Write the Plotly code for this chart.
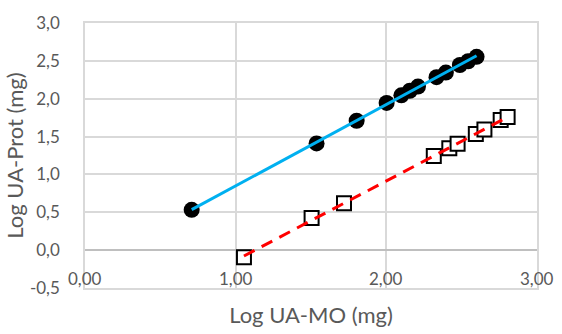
import numpy as np
import plotly.graph_objects as go

# Series 1: filled circles (Log UA-MO vs Log UA-Prot)
circ_x = [0.708, 1.537, 1.803, 2.002, 2.100, 2.156, 2.210, 2.333, 2.395, 2.488, 2.543, 2.599]
circ_y = [0.532, 1.410, 1.709, 1.945, 2.045, 2.105, 2.160, 2.285, 2.345, 2.445, 2.495, 2.553]

# Series 2: open squares
sq_x = [1.055, 1.504, 1.719, 2.315, 2.418, 2.473, 2.594, 2.651, 2.759, 2.805]
sq_y = [-0.095, 0.423, 0.618, 1.243, 1.345, 1.405, 1.533, 1.592, 1.720, 1.760]

x_ticks = [0, 1, 2, 3]
x_tick_text = ["0,00", "1,00", "2,00", "3,00"]
y_ticks = [-0.5, 0, 0.5, 1.0, 1.5, 2.0, 2.5, 3.0]
y_tick_text = ["-0,5", "0,0", "0,5", "1,0", "1,5", "2,0", "2,5", "3,0"]

def trend(xs, ys):
    a, b = np.polyfit(xs, ys, 1)
    x0, x1 = min(xs), max(xs)
    return [x0, x1], [a * x0 + b, a * x1 + b]

tcx, tcy = trend(circ_x, circ_y)
tsx, tsy = trend(sq_x, sq_y)

FONT = "Lato, Carlito, Calibri, sans-serif"
GREY = "#595959"
fig = go.Figure()
fig.add_trace(go.Scatter(x=circ_x, y=circ_y, mode="markers",
                         marker=dict(symbol="circle", size=16, color="black"),
                         showlegend=False, hoverinfo="skip"))
fig.add_trace(go.Scatter(x=sq_x, y=sq_y, mode="markers",
                         marker=dict(symbol="square", size=14, color="white",
                                     line=dict(color="black", width=2)),
                         showlegend=False, hoverinfo="skip"))
fig.add_trace(go.Scatter(x=tcx, y=tcy, mode="lines",
                         line=dict(color="#00B0F0", width=3),
                         showlegend=False, hoverinfo="skip"))
fig.add_trace(go.Scatter(x=tsx, y=tsy, mode="lines",
                         line=dict(color="#FF0000", width=3, dash="12px,8px"),
                         showlegend=False, hoverinfo="skip"))

# x tick labels sit just above the bottom edge (axis crosses at y = 0)
for xv, txt in zip(x_ticks, x_tick_text):
    fig.add_annotation(x=xv, y=-0.38, xref="x", yref="y", text=txt,
                       showarrow=False, xanchor="center", yanchor="middle",
                       font=dict(family=FONT, size=17, color=GREY))

fig.update_layout(
    width=562, height=334,
    margin=dict(l=85, r=25, t=19, b=46),
    paper_bgcolor="white", plot_bgcolor="white",
    font=dict(family=FONT, color=GREY, size=17),
    xaxis=dict(range=[0, 3], tickvals=x_ticks, showticklabels=False,
               showgrid=True, gridcolor="#D9D9D9", gridwidth=1.5,
               zeroline=False, showline=True, linecolor="#D9D9D9", linewidth=1.5,
               mirror=True, ticks="",
               title=dict(text="Log UA-MO (mg)", font=dict(size=22, color=GREY), standoff=19)),
    yaxis=dict(range=[-0.5, 3.0], tickvals=y_ticks, ticktext=y_tick_text,
               showgrid=True, gridcolor="#D9D9D9", gridwidth=1.5,
               zeroline=True, zerolinecolor="#BFBFBF", zerolinewidth=2,
               showline=True, linecolor="#D9D9D9", linewidth=1.5, mirror=True,
               ticks="", ticklabelstandoff=20,
               title=dict(text="Log UA-Prot (mg)", font=dict(size=22, color=GREY), standoff=0),
               tickfont=dict(size=17, color=GREY)),
)

fig.write_html("out.html")
